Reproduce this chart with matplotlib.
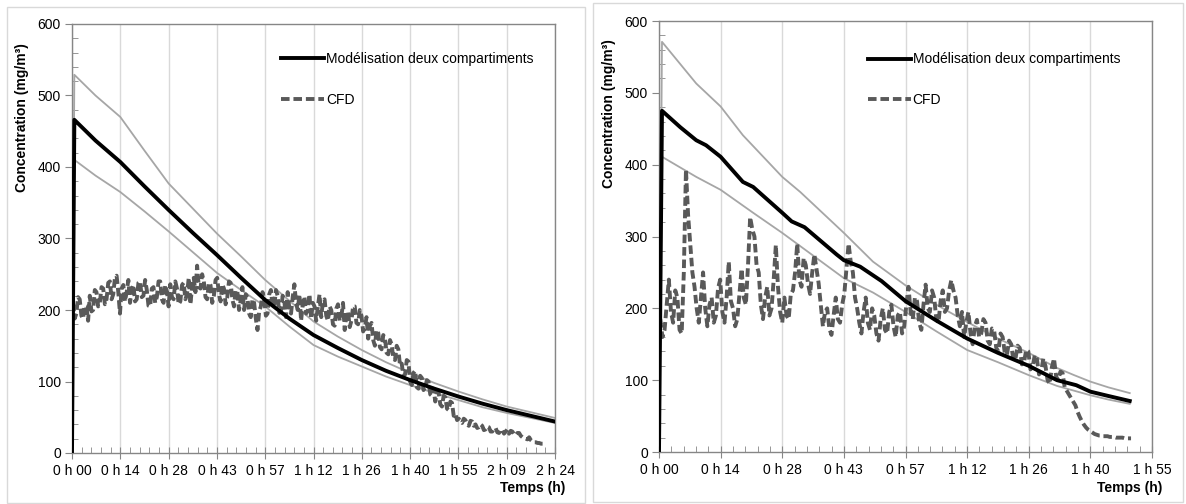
import numpy as np
import matplotlib
matplotlib.use('Agg')
import matplotlib.pyplot as plt
from matplotlib.patches import Rectangle

plt.rcParams['font.family'] = ['Liberation Sans', 'DejaVu Sans']

# ---- left panel : modele deux compartiments (min / mg/m3) ----
left_model_t = [0, 0.7, 7, 14.4, 21.6, 28.8, 36, 43.2, 50.4, 57.6, 64.8, 72, 79.2,
                86.4, 93.6, 100.8, 108, 115.2, 122.4, 129.6, 136.8, 144]
left_model = [0, 466, 437, 407, 373, 340, 308, 277, 245, 214, 188, 165, 147,
              130, 115, 102, 90, 79, 69, 60, 52, 44]
left_upper = [0, 529, 500, 470, 423, 377, 342, 307, 275, 242, 213, 184, 163,
              144, 127, 112, 98, 86, 75, 65, 57, 49]
left_lower = [0, 410, 388, 365, 338, 310, 281, 252, 228, 205, 177, 151, 135,
              121, 107, 95, 84, 74, 64, 56, 49, 42]

# CFD, one value every 30 s
left_cfd = [210, 188, 195, 218, 215, 192, 188, 206, 205, 185, 220, 198, 200, 228,
            225, 205, 210, 232, 230, 208, 215, 238, 240, 215, 222, 245, 248, 225,
            195, 230, 235, 212, 225, 242, 210, 228, 235, 212, 215, 238, 240, 218,
            220, 242, 228, 206, 205, 230, 232, 210, 218, 240, 240, 215, 210, 235,
            226, 205, 236, 218, 215, 240, 230, 208, 212, 235, 238, 215, 222, 245,
            208, 232, 245, 225, 262, 232, 230, 250, 240, 218, 215, 238, 235, 210,
            220, 242, 245, 222, 212, 236, 230, 208, 218, 240, 238, 215, 205, 228,
            226, 200, 214, 232, 200, 222, 218, 195, 190, 215, 210, 188, 172, 198,
            205, 225, 215, 192, 195, 222, 228, 205, 205, 228, 220, 196, 198, 220,
            212, 190, 225, 202, 195, 218, 236, 210, 200, 222, 185, 208, 219, 195,
            200, 222, 188, 210, 205, 185, 205, 222, 190, 212, 215, 192, 185, 205,
            200, 180, 178, 202, 208, 185, 190, 210, 172, 195, 198, 176, 185, 205,
            205, 182, 180, 200, 192, 170, 175, 190, 160, 178, 182, 158, 150, 172,
            168, 148, 145, 165, 160, 140, 138, 158, 152, 132, 130, 150, 145, 122,
            125, 108, 110, 130, 128, 100, 95, 112, 115, 92, 90, 108, 105, 88,
            92, 102, 100, 82, 80, 90, 72, 86, 85, 68, 65, 80, 78, 62,
            60, 72, 70, 52, 55, 46, 48, 44, 42, 48, 46, 40, 38, 45,
            44, 38, 40, 35, 36, 40, 38, 32, 33, 37, 36, 30, 30, 34,
            35, 29, 28, 33, 32, 27, 30, 33, 27, 31, 30, 26, 25, 28,
            28, 24, 22, 21, 20, 19, 22, 18, 16, 15, 15, 14, 14, 13, 13]

left_ticks = [0, 14.4, 28.8, 43.2, 57.6, 72, 86.4, 100.8, 115.2, 129.6, 144]
left_ticklabels = ['0 h 00', '0 h 14', '0 h 28', '0 h 43', '0 h 57', '1 h 12',
                   '1 h 26', '1 h 40', '1 h 55', '2 h 09', '2 h 24']

# ---- right panel ----
right_model_t = [0, 0.7, 5, 8.7, 11, 14.4, 19.6, 22, 28.8, 31, 34, 41.5, 43.2, 47, 52,
                 57.6, 64.8, 72, 79.2, 86.4, 93, 97.5, 100.8, 105, 110]
right_model = [0, 475, 452, 434, 427, 411, 376, 369, 333, 321, 313, 275, 267, 258, 238,
               210, 183, 158, 138, 120, 100, 93, 84, 78, 71]
right_upper_t = [0, 0.7, 8.7, 14.4, 19.6, 28.8, 33, 43.2, 50, 53, 57.6, 64.8, 72,
                 79.2, 86.4, 93, 97, 100.8, 105, 110]
right_upper = [0, 571, 513, 481, 441, 383, 362, 305, 265, 252, 232, 205, 181,
               158, 138, 117, 107, 98, 90, 82]
right_lower_t = [0, 0.7, 8.7, 14.4, 22, 28.8, 43.2, 50, 57.6, 64.8, 72, 79.2, 86.4,
                 93, 100.8, 105, 110]
right_lower = [0, 411, 383, 365, 333, 305, 242, 222, 195, 168, 142, 125, 107,
               92, 79, 73, 67]

right_cfd = [185, 160, 170, 205, 240, 195, 180, 225, 215, 170, 165, 250, 393, 330,
             290, 250, 230, 200, 180, 215, 250, 200, 175, 205, 215, 180, 190, 228,
             240, 195, 180, 215, 265, 210, 200, 175, 185, 220, 255, 215, 205, 260,
             327, 310, 300, 260, 250, 205, 185, 215, 230, 190, 200, 240, 288, 230,
             195, 180, 215, 190, 185, 220, 225, 250, 290, 240, 230, 270, 260, 235,
             220, 250, 275, 255, 235, 205, 175, 195, 200, 172, 163, 190, 215, 185,
             180, 205, 220, 255, 290, 265, 250, 215, 200, 180, 165, 195, 215, 180,
             170, 200, 190, 165, 155, 185, 200, 170, 165, 195, 205, 175, 160, 190,
             195, 165, 175, 205, 230, 195, 185, 215, 210, 180, 170, 205, 233, 200,
             195, 225, 215, 185, 180, 210, 225, 195, 200, 225, 239, 225, 215, 190,
             175, 195, 160, 180, 195, 165, 150, 175, 184, 160, 165, 185, 180, 155,
             150, 172, 170, 145, 140, 165, 160, 138, 135, 155, 150, 128, 130, 148,
             145, 122, 125, 142, 140, 115, 118, 135, 130, 108, 112, 130, 120, 100,
             95, 118, 130, 105, 100, 112, 110, 90, 85, 80, 75, 70, 65, 56,
             49, 43, 38, 34, 31, 29, 27, 25, 24, 23, 23, 22, 22, 22,
             21, 21, 21, 20, 20, 20, 20, 19, 19, 19, 19]

right_ticks = [0, 14.4, 28.8, 43.2, 57.6, 72, 86.4, 100.8, 115.2]
right_ticklabels = ['0 h 00', '0 h 14', '0 h 28', '0 h 43', '0 h 57', '1 h 12',
                    '1 h 26', '1 h 40', '1 h 55']

W, H = 1186, 504
fig = plt.figure(figsize=(W / 100, H / 100), dpi=100)

# chart borders (Excel chart areas)
for x0, y0, x1, y1 in [(7, 7, 585, 503), (593, 3, 1183, 502)]:
    fig.patches.append(Rectangle((x0 / W, 1 - y1 / H), (x1 - x0) / W, (y1 - y0) / H,
                                 transform=fig.transFigure, fill=False,
                                 edgecolor='#d9d9d9', lw=1))

ax1 = fig.add_axes([72 / W, 1 - 453 / H, 483 / W, 429 / H])
ax2 = fig.add_axes([659 / W, 1 - 452 / H, 493 / W, 431 / H])

panels = [
    (ax1, left_model_t, left_model, left_model_t, left_upper, left_model_t, left_lower,
     left_cfd, left_ticks, left_ticklabels, 144, (0.432, 0.934), (72, 555, 453), 22, 118),
    (ax2, right_model_t, right_model, right_upper_t, right_upper, right_lower_t,
     right_lower, right_cfd, right_ticks, right_ticklabels, 115.2, (0.423, 0.927),
     (659, 1152, 452), 609, 114),
]

for (ax, mt, m, ut, u, lt, l, cfd, ticks, labels, xmax, leg_pos, box,
     ylab_x, ylab_y) in panels:
    cfd_t = np.arange(len(cfd)) * 0.5 + 0.3
    ax.plot(ut, u, color='#a6a6a6', lw=1.3, zorder=2)
    ax.plot(lt, l, color='#a6a6a6', lw=1.3, zorder=2)
    ax.plot(cfd_t, cfd, color='#595959', lw=2.8, dashes=(2.2, 1.0), zorder=3,
            label='CFD')
    ax.plot(mt, m, color='black', lw=2.8, zorder=4,
            label='Modélisation deux compartiments')

    ax.set_xlim(0, xmax)
    ax.set_ylim(0, 600)
    ax.set_xticks(ticks)
    ax.set_xticklabels(labels)
    ax.set_xticks(np.arange(0, xmax + 0.01, 2.88), minor=True)
    ax.set_yticks([0, 100, 200, 300, 400, 500, 600])
    ax.set_yticks(np.arange(0, 601, 20), minor=True)
    ax.grid(axis='x', which='major', color='#d9d9d9', lw=1)
    ax.set_axisbelow(True)
    for s in ax.spines.values():
        s.set_color('#868686')
        s.set_linewidth(1)
    ax.tick_params(axis='x', which='major', direction='inout', length=8,
                   color='#868686', labelsize=10, pad=4)
    ax.tick_params(axis='x', which='minor', direction='in', length=4, color='#868686')
    ax.tick_params(axis='y', which='major', direction='out', length=5,
                   color='#868686', labelsize=10, pad=3)
    ax.tick_params(axis='y', which='minor', direction='in', length=4, color='#868686')

    h, lab = ax.get_legend_handles_labels()
    ax.legend(h[::-1], lab[::-1], loc='upper left', bbox_to_anchor=leg_pos,
              frameon=False, fontsize=10, handlelength=3.1, handletextpad=0.15,
              labelspacing=1.9, borderpad=0, borderaxespad=0)

    fig.text((box[1] + 10) / W, 1 - 488 / H, 'Temps (h)', ha='right', va='center',
             fontsize=10, fontweight='bold')
    fig.text(ylab_x / W, 1 - ylab_y / H, 'Concentration (mg/m³)', rotation=90,
             ha='center', va='center', fontsize=10, fontweight='bold')

fig.savefig('out.png', dpi=100)
